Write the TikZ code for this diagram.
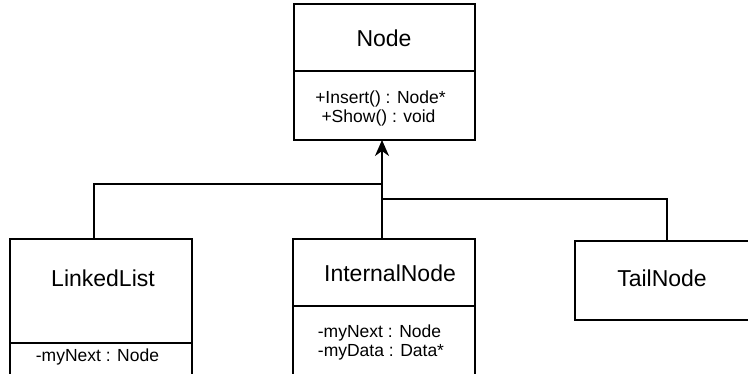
\documentclass[tikz,border=0pt]{standalone}
\usepackage{fontspec}
\setmainfont{Liberation Sans}
\usetikzlibrary{arrows.meta}
\begin{document}
\begin{tikzpicture}[x=1pt,y=-1pt,
  box/.style={draw, line width=2pt, inner sep=0pt, outer sep=0pt},
  title/.style={anchor=base, font=\fontsize{23}{27}\selectfont, inner sep=0pt},
  attr/.style={anchor=base, font=\fontsize{17.5}{19}\selectfont, inner sep=0pt},
  conn/.style={line width=2pt},
  divider/.style={line width=2pt},
  tip/.style={-{Stealth[length=16pt,width=14pt,inset=5pt]}}]
\useasboundingbox (0,0) rectangle (748,374);
\clip (0,0) rectangle (748,374);

% class boxes
\node[box, minimum width=181pt, minimum height=136pt] (node) at (384.5,72) {};
\node[box, minimum width=182pt, minimum height=146pt] (linked) at (101,312) {};
\node[box, minimum width=182pt, minimum height=146pt] (internal) at (384,312) {};
\node[box, minimum width=185pt, minimum height=79pt] (tail) at (667.5,280.5) {};

% dividers
\coordinate (d1) at (0,71);
\coordinate (d2) at (0,343);
\coordinate (d3) at (0,306);
\draw[divider] (node.west |- d1) -- (node.east |- d1);
\draw[divider] (linked.west |- d2) -- (linked.east |- d2);
\draw[divider] (internal.west |- d3) -- (internal.east |- d3);

% texts
\node[title] (tNode) at (384,46.7) {Node};
\node[attr] (mIns) at (380.5,104) {+Insert() : Node*};
\node[attr] (mShow) at (378.5,122.7) {+Show() : void};
\node[title] (tLinked) at (103,286.7) {LinkedList};
\node[attr] (aLinked) at (97.5,362) {-myNext : Node};
\node[title] (tInternal) at (390,282) {InternalNode};
\node[attr] (aNext) at (379.5,338) {-myNext : Node};
\node[attr] (aData) at (381,357) {-myData : Data*};
\node[title] (tTail) at (662,287) {TailNode};

% connectors
\coordinate (trunk) at (382,0);
\coordinate (llx) at (94,0);
\coordinate (tailx) at (667,0);
\coordinate (bar1) at (0,184);
\coordinate (bar2) at (0,199);
\draw[conn] (linked.north -| llx) -- (llx |- bar1) -- (trunk |- bar1);
\draw[conn, tip] (internal.north -| trunk) -- (node.south -| trunk);
\draw[conn] (trunk |- bar2) -- (tailx |- bar2) -- (tail.north -| tailx);
\end{tikzpicture}
\end{document}
